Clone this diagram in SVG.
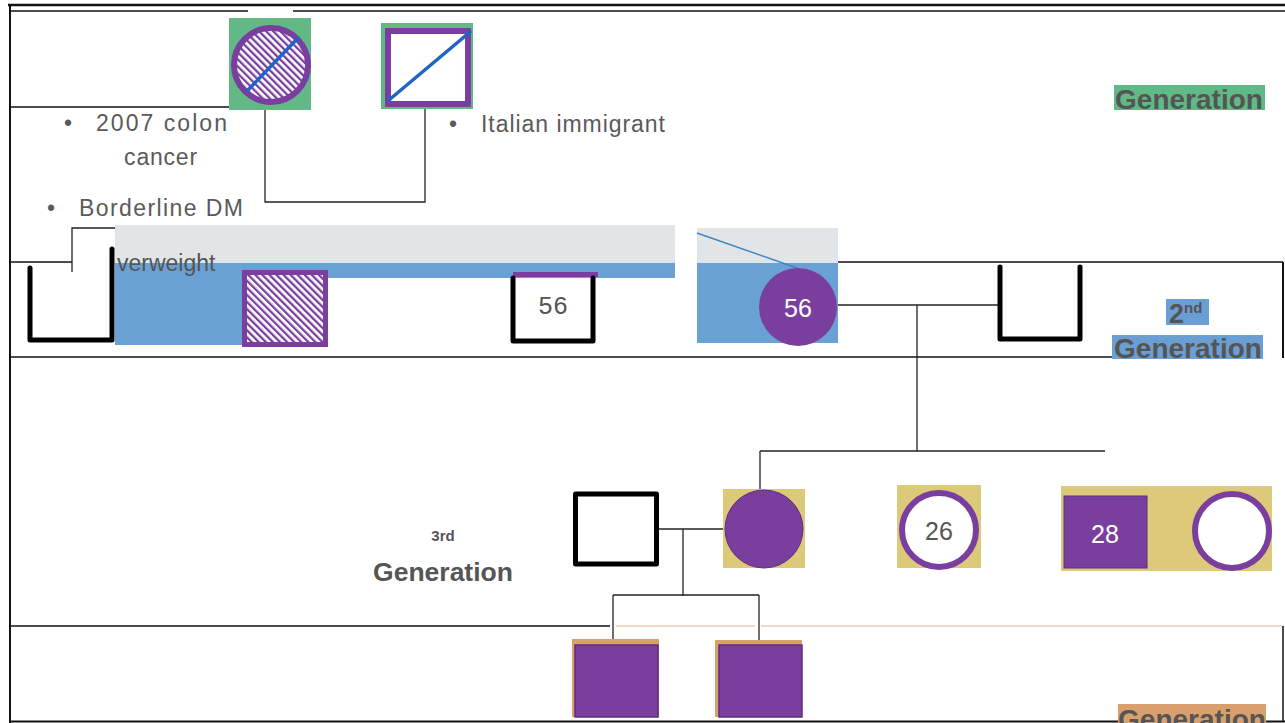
<svg xmlns="http://www.w3.org/2000/svg" width="1285" height="723" viewBox="0 0 1285 723">
<defs>
<pattern id="hatch" patternUnits="userSpaceOnUse" width="5" height="5" patternTransform="rotate(-45)">
<rect width="5" height="5" fill="#ffffff"/>
<rect width="2.3" height="5" fill="#7a3f9e"/>
</pattern>
</defs>
<style>
.frame{stroke:#111;fill:none}
.conn{stroke:#222;stroke-width:1.3;fill:none}
.blue{stroke:#3d85c6;stroke-width:1.5;fill:none}
.u{stroke:#000;stroke-width:5;fill:none;stroke-linecap:round;stroke-linejoin:round}
.note{font-family:"Liberation Sans",Arial,sans-serif;font-size:23px;fill:#5a5a5a}
.gen{font-family:"Liberation Sans",Arial,sans-serif;font-weight:bold;fill:#555555}
.num{font-family:"Liberation Sans",Arial,sans-serif;font-size:25px;text-anchor:middle}
.purple{fill:#7a3f9e}
.pstroke{stroke:#7a3f9e;stroke-width:6}
.green{fill:#63b985}
.tan{fill:#dcc97a}
.orange{fill:#d9a06e}
</style>

<!-- frame and generation separator lines -->
<g id="frame">
<line class="frame" x1="8" y1="5" x2="1285" y2="5" stroke-width="2.5"/>
<line class="frame" x1="10" y1="11" x2="248" y2="11" stroke-width="1.5"/>
<line class="frame" x1="293" y1="11" x2="1285" y2="11" stroke-width="1.5"/>
<line class="frame" x1="10" y1="5" x2="10" y2="723" stroke-width="2"/>
<line class="frame" x1="10" y1="107" x2="229" y2="107" stroke-width="1.3"/>
<line class="frame" x1="10" y1="262" x2="72" y2="262" stroke-width="1.3"/>
<line class="frame" x1="838" y1="262" x2="1283" y2="262" stroke-width="1.3"/>
<line class="frame" x1="1283" y1="262" x2="1283" y2="358" stroke-width="2"/>
<line class="frame" x1="10" y1="357" x2="1112" y2="357" stroke-width="1.3"/>
<line class="frame" x1="10" y1="626" x2="610" y2="626" stroke-width="1.3" stroke="#444"/>
<line x1="616" y1="626" x2="755" y2="626" stroke="#e8cdb2" stroke-width="1.5"/>
<line x1="761" y1="626" x2="1283" y2="626" stroke="#e8cdb2" stroke-width="1.5"/>
<line class="frame" x1="1283" y1="626" x2="1283" y2="721" stroke-width="1.5"/>
<line class="frame" x1="10" y1="721.5" x2="1285" y2="721.5" stroke-width="2"/>
</g>

<!-- generation labels -->
<g id="gen1-label">
<rect x="1114" y="85" width="151" height="25" class="green"/>
<text class="gen" x="1189" y="109" font-size="28" text-anchor="middle">Generation</text>
</g>
<g id="gen2-label">
<rect x="1166" y="299" width="43" height="26" fill="#6a9fd4"/>
<rect x="1112" y="335" width="151" height="24" fill="#6a9fd4"/>
<text class="gen" x="1169" y="323" font-size="27">2<tspan font-size="15" dy="-10">nd</tspan></text>
<text class="gen" x="1188" y="358" font-size="28" text-anchor="middle">Generation</text>
</g>
<g id="gen3-label">
<text class="gen" x="443" y="541" font-size="15" text-anchor="middle">3rd</text>
<text class="gen" x="443" y="581" font-size="26.5" text-anchor="middle">Generation</text>
</g>
<g id="gen4-label">
<rect x="1118" y="704" width="148" height="19" class="orange"/>
<text class="gen" x="1192" y="729" font-size="28" text-anchor="middle">Generation</text>
</g>

<!-- connectors -->
<g id="connectors">
<polyline class="conn" points="265,110 265,202 425,202 425,109"/>
<polyline class="conn" points="115,228 72,228 72,272"/>
<line class="blue" x1="115" y1="230" x2="675" y2="230"/>
<line class="blue" x1="286" y1="230" x2="286" y2="270"/>
<line class="blue" x1="355" y1="225" x2="355" y2="232"/>
<line class="blue" x1="562" y1="273" x2="675" y2="233"/>
<line class="blue" x1="697" y1="233" x2="797" y2="268"/>
<line class="conn" x1="838" y1="305" x2="1000" y2="305"/>
<line class="conn" x1="917" y1="305" x2="917" y2="451"/>
<line class="conn" x1="760" y1="451" x2="1105" y2="451"/>
<line class="conn" x1="760" y1="451" x2="760" y2="490"/>
<line class="conn" x1="657" y1="529" x2="723" y2="529"/>
<line class="conn" x1="683" y1="529" x2="683" y2="596"/>
<line class="conn" x1="613" y1="595" x2="759" y2="595"/>
<line class="conn" x1="613" y1="595" x2="613" y2="641"/>
<line class="conn" x1="759" y1="595" x2="759" y2="641"/>
<line stroke="#9a8a7a" stroke-width="1" x1="939" y1="485" x2="939" y2="491"/>
<line class="blue" x1="1106" y1="486" x2="1106" y2="496"/>
<line class="blue" x1="1147" y1="532" x2="1192" y2="532"/>
</g>

<!-- generation 1 -->
<g id="g1-grandmother">
<rect x="229" y="18" width="82" height="92" class="green"/>
<circle cx="271" cy="65" r="37" fill="url(#hatch)" class="pstroke"/>
<line x1="248" y1="90" x2="298" y2="38" stroke="#1f64c8" stroke-width="3.5" stroke-linecap="round"/>
</g>
<g id="g1-grandfather">
<rect x="381" y="23" width="92" height="86" class="green"/>
<rect x="388" y="31" width="80" height="73" fill="#fff" class="pstroke"/>
<line x1="389" y1="100" x2="470" y2="32" stroke="#1f64c8" stroke-width="3.5" stroke-linecap="round"/>
</g>
<g id="g1-notes">
<text class="note" x="64" y="131">•</text>
<text class="note" x="96" y="131" textLength="131" lengthAdjust="spacing">2007 colon</text>
<text class="note" x="161" y="165" text-anchor="middle" letter-spacing="0.8">cancer</text>
<text class="note" x="47" y="216">•</text>
<text class="note" x="79" y="216" textLength="164" lengthAdjust="spacing">Borderline DM</text>
<text class="note" x="449" y="132">•</text>
<text class="note" x="481" y="132" textLength="184" lengthAdjust="spacing">Italian immigrant</text>
</g>

<!-- generation 2 -->
<g id="g2-background">
<rect x="115" y="225" width="560" height="38" fill="#e1e5e8"/>
<rect x="115" y="263" width="560" height="15" fill="#6aa1d4"/>
<rect x="115" y="278" width="127" height="67" fill="#6aa1d4"/>
<text x="117" y="271" font-family="'Liberation Sans',Arial,sans-serif" font-size="23" fill="#555">verweight</text>
</g>
<g id="g2-uncle-left">
<polyline class="u" points="30,268 30,340 112,340 112,249"/>
</g>
<g id="g2-aunt">
<rect x="244.5" y="272.5" width="81" height="72" fill="url(#hatch)" stroke="#7a3f9e" stroke-width="5"/>
</g>
<g id="g2-uncle-56">
<rect x="513" y="272" width="85" height="5" fill="#7a3f9e"/>
<polyline class="u" points="513,278 513,341 593,341 593,278"/>
<text x="553" y="314" font-family="'Liberation Mono','Courier New',monospace" font-size="25" fill="#555" text-anchor="middle">56</text>
</g>
<g id="g2-mother">
<rect x="697" y="228" width="141" height="35" fill="#e1e5e8"/>
<rect x="697" y="263" width="141" height="80" fill="#6aa1d4"/>
<line class="blue" x1="697" y1="233" x2="797" y2="268"/>
<circle cx="798" cy="307" r="39" class="purple"/>
<text class="num" x="798" y="317" fill="#fff">56</text>
</g>
<g id="g2-father">
<polyline class="u" points="1000,267 1000,339 1080,339 1080,267"/>
</g>

<!-- generation 3 -->
<g id="g3-husband">
<rect x="575.5" y="494" width="81" height="70" fill="#fff" stroke="#000" stroke-width="5" stroke-linejoin="round"/>
</g>
<g id="g3-patient">
<rect x="723" y="489" width="82" height="79" class="tan"/>
<circle cx="764" cy="529" r="39" class="purple" stroke="#5f2d80" stroke-width="1"/>
</g>
<g id="g3-sister-26">
<rect x="897" y="485" width="84" height="83" class="tan"/>
<circle cx="939" cy="530" r="37" fill="#fff" class="pstroke"/>
<text class="num" x="939" y="540" fill="#555">26</text>
</g>
<g id="g3-brother-28">
<rect x="1061" y="486" width="211" height="85" class="tan"/>
<rect x="1064" y="496" width="83" height="72" class="purple" stroke="#5f2d80" stroke-width="1"/>
<text class="num" x="1105" y="543" fill="#fff">28</text>
</g>
<g id="g3-brother-spouse">
<circle cx="1232" cy="531" r="37" fill="#fff" class="pstroke"/>
</g>

<!-- generation 4 -->
<g id="g4-son1">
<rect x="572" y="639" width="87" height="78" class="orange"/>
<rect x="575" y="645" width="83" height="72" class="purple" stroke="#5f2d80" stroke-width="1.5"/>
</g>
<g id="g4-son2">
<rect x="715" y="640" width="87" height="77" class="orange"/>
<rect x="719" y="645" width="83" height="72" class="purple" stroke="#5f2d80" stroke-width="1.5"/>
</g>
</svg>
